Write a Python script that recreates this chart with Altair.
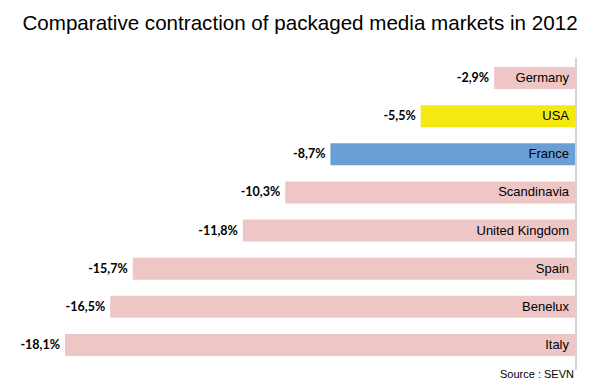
import altair as alt
import pandas as pd

countries = ["Germany", "USA", "France", "Scandinavia", "United Kingdom", "Spain", "Benelux", "Italy"]
values = [-2.9, -5.5, -8.7, -10.3, -11.8, -15.7, -16.5, -18.1]
labels = ["-2,9%", "-5,5%", "-8,7%", "-10,3%", "-11,8%", "-15,7%", "-16,5%", "-18,1%"]
colors = ["#efc6c6", "#f4ea12", "#6a9fd5", "#efc6c6", "#efc6c6", "#efc6c6", "#efc6c6", "#efc6c6"]

df = pd.DataFrame({"country": countries, "value": values, "label": labels, "color": colors})

W, H = 568, 305
xs = alt.X("value:Q", scale=alt.Scale(domain=[-20.12, 0], nice=False, zero=False), axis=None)
ys = alt.Y("country:N", sort=countries, scale=alt.Scale(paddingInner=0.42, paddingOuter=0.21), axis=None)

base = alt.Chart(df)
bars = base.mark_bar().encode(
    x=xs, x2=alt.datum(0), y=ys, color=alt.Color("color:N", scale=None)
)
vals = base.mark_text(align="right", baseline="middle", dx=-5, font="Lato", fontWeight="bold",
                      fontSize=12.5, color="black").encode(x=xs, y=ys, text="label:N")
names = base.mark_text(align="right", baseline="middle", dx=-7, font="Liberation Sans",
                       fontSize=13, color="black").encode(
    x=alt.datum(0), y=ys, text="country:N")

rule = alt.Chart(pd.DataFrame({"z": [0]})).mark_rule(color="#d4d4d4", strokeWidth=2).encode(
    x=alt.X("z:Q", scale=alt.Scale(domain=[-20.12, 0], nice=False, zero=False), axis=None),
    y=alt.value(-1), y2=alt.value(H + 6))

source = alt.Chart(pd.DataFrame({"t": ["Source : SEVN"]})).mark_text(
    align="right", baseline="middle", font="Liberation Sans", fontSize=11, color="black"
).encode(x=alt.value(W - 2), y=alt.value(H + 11), text="t:N")

title = alt.Chart(pd.DataFrame({"t": ["Comparative contraction of packaged media markets in 2012"]})).mark_text(
    align="center", baseline="middle", font="Liberation Sans", fontSize=20.6, color="black"
).encode(x=alt.value(292), y=alt.value(-35), text="t:N")

chart = alt.layer(bars, rule, vals, names, source, title).properties(
    width=W, height=H,
    autosize=alt.AutoSizeParams(type="none"),
    padding={"left": 0, "top": 51, "right": 16, "bottom": 26},
).configure_view(stroke=None)

chart.save("out.html", embed_options={"renderer": "svg", "actions": False})
